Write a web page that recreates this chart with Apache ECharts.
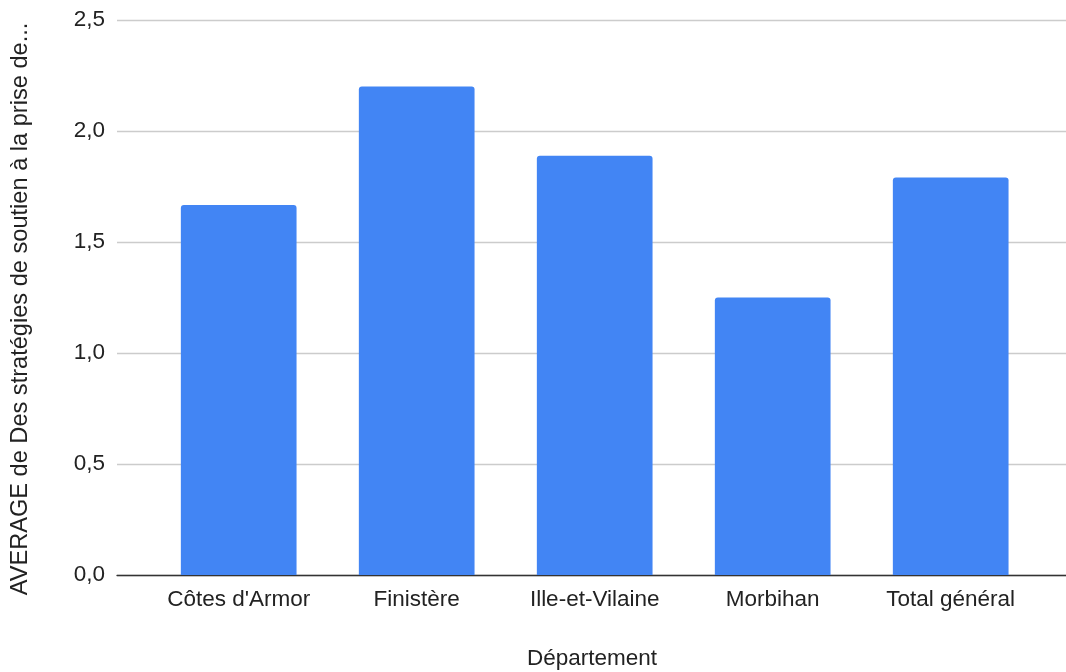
<!DOCTYPE html>
<html>
<head>
<meta charset="utf-8">
<script src="https://cdn.jsdelivr.net/npm/echarts@6/dist/echarts.min.js"></script>
<style>
html,body{margin:0;padding:0;background:#fff;}
#chart{width:1066px;height:672px;}
</style>
</head>
<body>
<div id="chart"></div>
<script>
const categories = ["Côtes d'Armor", "Finistère", "Ille-et-Vilaine", "Morbihan", "Total général"];
const values = [1.667, 2.2, 1.889, 1.25, 1.79];
const yTicks = [0, 0.5, 1, 1.5, 2, 2.5];
const yTitle = "AVERAGE de Des stratégies de soutien à la prise de...";
const xTitle = "Département";

const FONT = "'Liberation Sans', Arial, sans-serif";
const FS = 22.5;
const chart = echarts.init(document.getElementById('chart'), null, {renderer: 'canvas'});
chart.setOption({
  animation: false,
  backgroundColor: '#fff',
  grid: [
    {left: 117, right: 0, top: 20, bottom: 97},
    {left: 149.7, right: 26.3, top: 20, bottom: 97}
  ],
  xAxis: [
    {gridIndex: 0, type: 'category', data: categories,
     axisLine: {show: true, lineStyle: {color: '#333', width: 1.3}},
     axisTick: {show: false}, axisLabel: {show: false}, splitLine: {show: false}},
    {gridIndex: 1, type: 'category', data: categories,
     axisLine: {show: false}, axisTick: {show: false},
     axisLabel: {show: true, color: '#222', fontSize: FS, fontFamily: FONT, margin: 13, interval: 0}}
  ],
  yAxis: [
    {gridIndex: 0, type: 'value', min: yTicks[0], max: yTicks[yTicks.length-1], interval: 0.5,
     axisLine: {show: false}, axisTick: {show: false},
     axisLabel: {color: '#222', fontSize: FS, fontFamily: FONT, margin: 12,
       formatter: v => v.toFixed(1).replace('.', ',')},
     splitLine: {show: true, lineStyle: {color: '#cccccc', width: 1.3}}},
    {gridIndex: 1, type: 'value', min: yTicks[0], max: yTicks[yTicks.length-1], interval: 0.5,
     axisLine: {show: false}, axisTick: {show: false}, axisLabel: {show: false}, splitLine: {show: false}}
  ],
  series: [{
    type: 'bar', xAxisIndex: 1, yAxisIndex: 1, data: values,
    barWidth: '65%',
    itemStyle: {color: '#4285F4', borderRadius: [3, 3, 0, 0]}
  }],
  graphic: [
    {type: 'text', x: 20, y: 309, rotation: Math.PI/2,
     style: {text: yTitle, fill: '#222', font: '23.6px ' + FONT, align: 'center', verticalAlign: 'middle'}},
    {type: 'text', x: 592, y: 659,
     style: {text: xTitle, fill: '#222', font: FS + 'px ' + FONT, align: 'center', verticalAlign: 'middle'}}
  ]
});
</script>
</body>
</html>
